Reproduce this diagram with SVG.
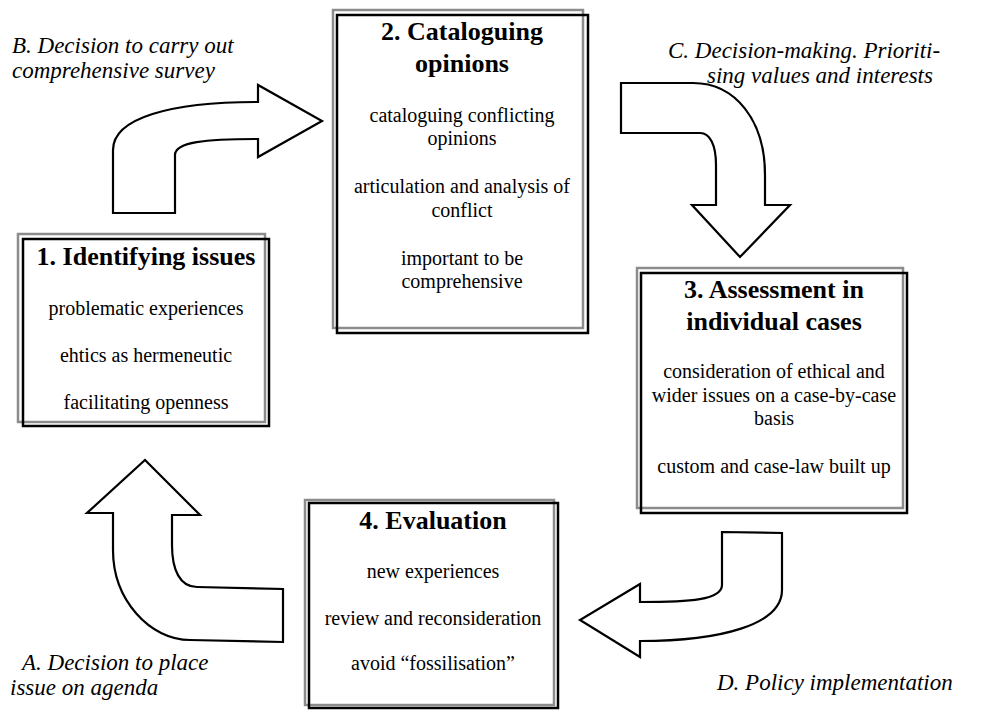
<svg xmlns="http://www.w3.org/2000/svg" width="983" height="711" viewBox="0 0 983 711">
<style>
.bg{fill:#ffffff}
.shadow{fill:none;stroke:#8c8c8c;stroke-width:2.5}
.frame{fill:#ffffff;fill-opacity:0;stroke:#000000;stroke-width:2.5}
.title{font-family:"Liberation Serif","Times New Roman",serif;font-size:26px;font-weight:bold;fill:#000;text-anchor:middle}
.body{font-family:"Liberation Serif","Times New Roman",serif;font-size:20px;fill:#000;text-anchor:middle}
.lab{font-family:"Liberation Serif","Times New Roman",serif;font-size:23px;font-style:italic;fill:#000}
.arrow{fill:#ffffff;stroke:#000000;stroke-width:2.2;stroke-linejoin:miter}
</style>
<rect class="bg" x="0" y="0" width="983" height="711"/>

<g id="connectors">
  <path id="arrow-B" class="arrow" d="M113,213 L113,150 C113,118 170,102 258,102 L258,85 L322,121 L258,157 L258,139 C205,139 175,142 175,155 L175,213 Z"/>
  <path id="arrow-C" class="arrow" d="M621,83 L693,83 C735,83 765,120 765,175 L765,205 L790,205 L740,257 L692,205 L716,205 L716,165 C716,145 710,133 700,133 L621,133 Z"/>
  <path id="arrow-D" class="arrow" d="M722,532 L782,533 L782,590 C782,625 720,641 640,641 L640,657 L580,620 L640,584 L640,602 C690,602 722,600 722,585 Z"/>
  <path id="arrow-A" class="arrow" d="M145,460 L200,515 L172,515 L172,545 C172,570 180,587 197,587 L283,589 L283,642 L190,640 C150,640 113,600 113,550 L113,513 L87,513 Z"/>
</g>

<g id="labels">
  <text class="lab" x="12" y="53">B. Decision to carry out</text>
  <text class="lab" x="12" y="78">comprehensive survey</text>
  <text class="lab" x="668" y="58">C. Decision-making. Prioriti-</text>
  <text class="lab" x="707" y="83">sing values and interests</text>
  <text class="lab" x="717" y="690">D. Policy implementation</text>
  <text class="lab" x="22" y="670">A. Decision to place</text>
  <text class="lab" x="10" y="695">issue on agenda</text>
</g>

<g id="node1">
  <rect class="shadow" x="18" y="234" width="247" height="188"/>
  <rect class="frame" x="23" y="239" width="246" height="187"/>
  <text class="title" x="146" y="265">1. Identifying issues</text>
  <text class="body" x="146" y="315">problematic experiences</text>
  <text class="body" x="146" y="362">ehtics as hermeneutic</text>
  <text class="body" x="146" y="409">facilitating openness</text>
</g>

<g id="node2">
  <rect class="shadow" x="333" y="10" width="250" height="318"/>
  <rect class="frame" x="337" y="15" width="251" height="318"/>
  <text class="title" x="462" y="40">2. Cataloguing</text>
  <text class="title" x="462" y="72">opinions</text>
  <text class="body" x="462" y="122">cataloguing conflicting</text>
  <text class="body" x="462" y="145">opinions</text>
  <text class="body" x="462" y="193">articulation and analysis of</text>
  <text class="body" x="462" y="217">conflict</text>
  <text class="body" x="462" y="265">important to be</text>
  <text class="body" x="462" y="288">comprehensive</text>
</g>

<g id="node3">
  <rect class="shadow" x="637" y="268" width="266" height="240"/>
  <rect class="frame" x="641" y="273" width="266" height="240"/>
  <text class="title" x="774" y="298">3. Assessment in</text>
  <text class="title" x="774" y="330">individual cases</text>
  <text class="body" x="774" y="378">consideration of ethical and</text>
  <text class="body" x="774" y="402">wider issues on a case-by-case</text>
  <text class="body" x="774" y="425">basis</text>
  <text class="body" x="774" y="473">custom and case-law built up</text>
</g>

<g id="node4">
  <rect class="shadow" x="305" y="500" width="249" height="205"/>
  <rect class="frame" x="309" y="503" width="249" height="205"/>
  <text class="title" x="433" y="529">4. Evaluation</text>
  <text class="body" x="433" y="578">new experiences</text>
  <text class="body" x="433" y="625">review and reconsideration</text>
  <text class="body" x="433" y="670">avoid “fossilisation”</text>
</g>
</svg>
